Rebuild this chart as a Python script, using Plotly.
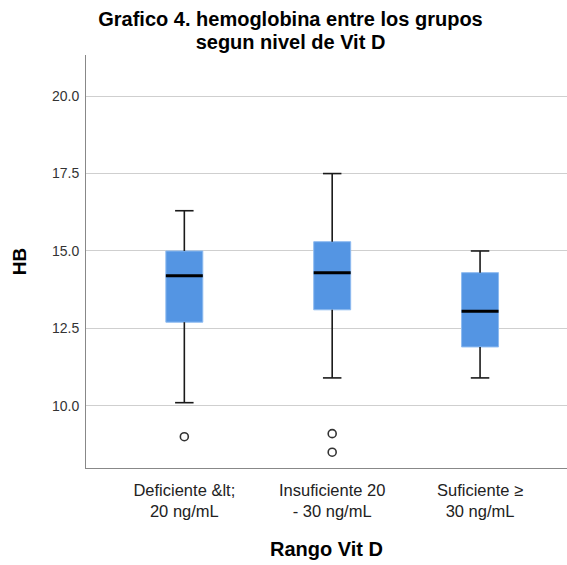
import plotly.graph_objects as go

# ---- data ----
categories = ["Deficiente &amp;lt;<br>20 ng/mL", "Insuficiente 20<br>- 30 ng/mL", "Suficiente ≥<br>30 ng/mL"]
positions = [0, 1, 2]
lower_whisker = [10.1, 10.9, 10.9]
q1 = [12.7, 13.1, 11.9]
median = [14.2, 14.3, 13.05]
q3 = [15.0, 15.3, 14.3]
upper_whisker = [16.3, 17.5, 15.0]
outlier_group = [0, 1, 1]
outlier_values = [9.0, 9.1, 8.5]
y_ticks = [10.0, 12.5, 15.0, 17.5, 20.0]

FONT = "Arial, Liberation Sans, sans-serif"
BOX_W = 0.25
CAP_W = 0.125

fig = go.Figure()

# whiskers + caps built from the data
wx, wy = [], []
for p, lo, a, b, hi in zip(positions, lower_whisker, q1, q3, upper_whisker):
    wx += [p, p, None, p, p, None,
           p - CAP_W / 2, p + CAP_W / 2, None, p - CAP_W / 2, p + CAP_W / 2, None]
    wy += [b, hi, None, a, lo, None, hi, hi, None, lo, lo, None]
fig.add_trace(go.Scatter(x=wx, y=wy, mode="lines",
                         line=dict(color="#1a1a1a", width=1.6),
                         hoverinfo="skip", showlegend=False))

# boxes
fig.add_trace(go.Box(x=positions, q1=q1, median=median, q3=q3,
                     lowerfence=q1, upperfence=q3,
                     width=BOX_W, whiskerwidth=0,
                     fillcolor="#5495E3",
                     line=dict(color="#8EBBF0", width=1),
                     boxpoints=False, showlegend=False))

# medians
mx, my = [], []
for p, m in zip(positions, median):
    mx += [p - BOX_W / 2, p + BOX_W / 2, None]
    my += [m, m, None]
fig.add_trace(go.Scatter(x=mx, y=my, mode="lines",
                         line=dict(color="#000000", width=3),
                         hoverinfo="skip", showlegend=False))

# outliers
fig.add_trace(go.Scatter(x=[positions[g] for g in outlier_group], y=outlier_values,
                         mode="markers",
                         marker=dict(symbol="circle-open", size=8,
                                     color="#333333", line=dict(width=1.6)),
                         showlegend=False))

title_text = ('<span style="font-size:20px"><b>Grafico 4. hemoglobina entre los grupos</b></span><br>'
              '<span style="font-size:20px"><b>segun nivel de Vit D</b></span>')

fig.update_layout(
    width=567, height=565,
    margin=dict(l=86, r=0, t=55, b=97),
    paper_bgcolor="white", plot_bgcolor="white",
    font=dict(family=FONT, color="#222222"),
    title=dict(text=title_text,
               x=290.5 / 567, xanchor="center", xref="container",
               y=1 - 26 / 565, yanchor="top", yref="container",
               font=dict(size=17.7, color="#000000", family=FONT)),
    xaxis=dict(range=[-0.665, 2.588], tickmode="array", tickvals=positions,
               ticktext=categories, showgrid=False, zeroline=False,
               showline=True, linecolor="#888888", linewidth=1, ticks="",
               ticklabelstandoff=7,
               tickfont=dict(size=16.5, color="#222222"),
               title=dict(text="<b>Rango Vit D</b>", font=dict(size=20, color="#000000"),
                          standoff=22)),
    yaxis=dict(range=[7.99, 21.33], tickmode="array", tickvals=y_ticks,
               tickformat=".1f", showgrid=True, gridcolor="#CFCFCF", gridwidth=1.3,
               zeroline=False, showline=True, linecolor="#888888", linewidth=1,
               ticks="", ticklabelstandoff=3, tickfont=dict(size=14, color="#333333"),
               title=dict(text="<b>HB</b>", font=dict(size=19, color="#000000"),
                          standoff=20)),
)

fig.write_html("out.html")
